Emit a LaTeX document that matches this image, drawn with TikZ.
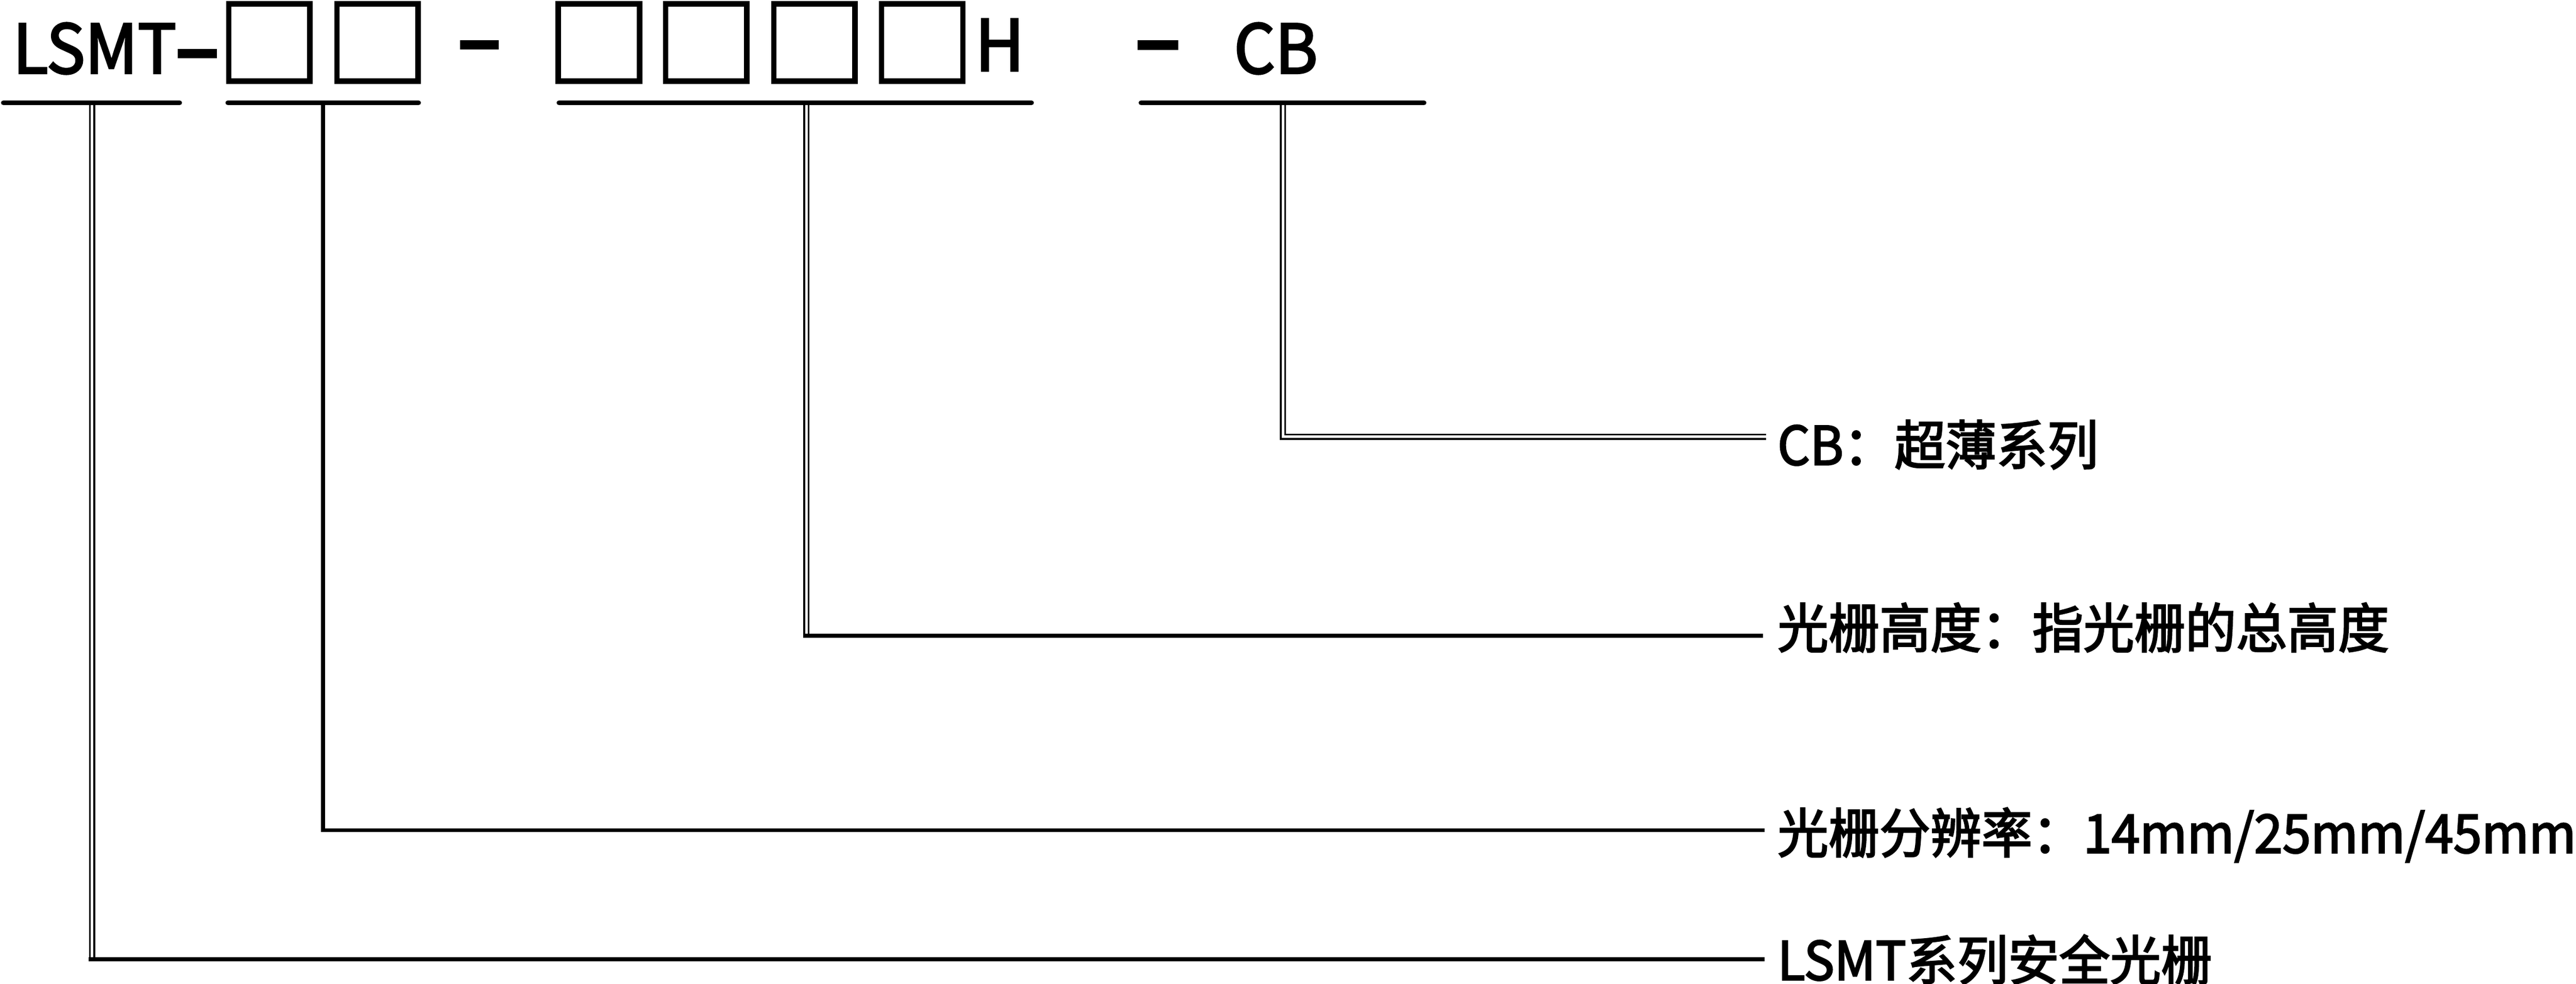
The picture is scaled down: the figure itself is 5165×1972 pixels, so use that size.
\documentclass[tikz,border=0pt]{standalone}
\usepackage{fontspec}
\setmainfont{Noto Sans CJK SC}[FakeBold=2.6, FakeStretch=0.955]
\begin{document}
\begin{tikzpicture}[x=0.1pt,y=-0.1pt,
  hdr/.style={inner sep=0pt, anchor=base west, font=\fontsize{13.6pt}{15pt}\selectfont},
  lab/.style={inner sep=0pt, anchor=base west, font=\fontsize{10.7pt}{13pt}\selectfont},
  slot/.style={draw, line width=1.1pt, minimum width=16.3pt, minimum height=15.5pt, inner sep=0pt},
  dashbar/.style={fill, draw=none, inner sep=0pt, minimum height=1.9pt},
  uline/.style={line width=1pt, line cap=round},
  lead/.style={line width=0.8pt},
  dlead/.style={double, line width=0.35pt, double distance=0.55pt},
]
\useasboundingbox (0,0) rectangle (5165,1972);

% ---- header code ----
\node[hdr] (lsmt) at (24,147) {LSMT};
\node[dashbar, minimum width=7.9pt] (d1) at (395.5,107.5) {};
\node[slot] (b1) at (540,85) {};
\node[slot] (b2) at (757,85) {};
\node[dashbar, minimum width=7.8pt] (d2) at (961,90) {};
\node[slot] (b3) at (1201,85) {};
\node[slot] (b4) at (1416,85) {};
\node[slot] (b5) at (1633,85) {};
\node[slot] (b6) at (1849,85) {};
\node[hdr, font=\fontsize{14.2pt}{15pt}\selectfont] (hh) at (1953,142) {H};
\node[dashbar, minimum width=8.1pt] (d3) at (2321.5,90.5) {};
\node[hdr] (cb) at (2472,147) {CB};

% ---- underline and tap coordinates ----
\coordinate (u1a) at (7,206);    \coordinate (u1b) at (360,206);
\coordinate (u2a) at (457,206);  \coordinate (u2b) at (839,206);
\coordinate (u3a) at (1121,206); \coordinate (u3b) at (2068,206);
\coordinate (u4a) at (2288,206); \coordinate (u4b) at (2855,206);
\coordinate (t1) at (184.5,206);
\coordinate (t2) at (648,206);
\coordinate (t3) at (1617,206);
\coordinate (t4) at (2572.5,206);

% ---- labels ----
\node[lab] (l4) at (3562,932) {CB：超薄系列};
\node[lab] (l3) at (3562,1299) {光栅高度：指光栅的总高度};
\node[lab] (l2) at (3562,1710) {光栅分辨率：14mm/25mm/45mm};
\node[lab] (l1) at (3562,1965) {LSMT系列安全光栅};

% ---- leader ends ----
\coordinate (e1) at (3538,1923);
\coordinate (e2) at (3538,1664.5);
\coordinate (e3) at (3535,1275);
\coordinate (e4) at (3541,875.5);

% ---- leaders ----
\draw[dlead] (t1) -- (t1 |- e1);
\draw[lead] (t1 |- e1) ++(-6.5,0) -- (e1);
\draw[lead] (t2) |- (e2);
\draw[dlead] (t3) -- (t3 |- e3);
\draw[lead] (t3 |- e3) ++(-6.5,0) -- (e3);
\draw[dlead] (t4) |- (e4);

% ---- underlines ----
\draw[uline] (u1a) -- (u1b);
\draw[uline] (u2a) -- (u2b);
\draw[uline] (u3a) -- (u3b);
\draw[uline] (u4a) -- (u4b);
\end{tikzpicture}
\end{document}
